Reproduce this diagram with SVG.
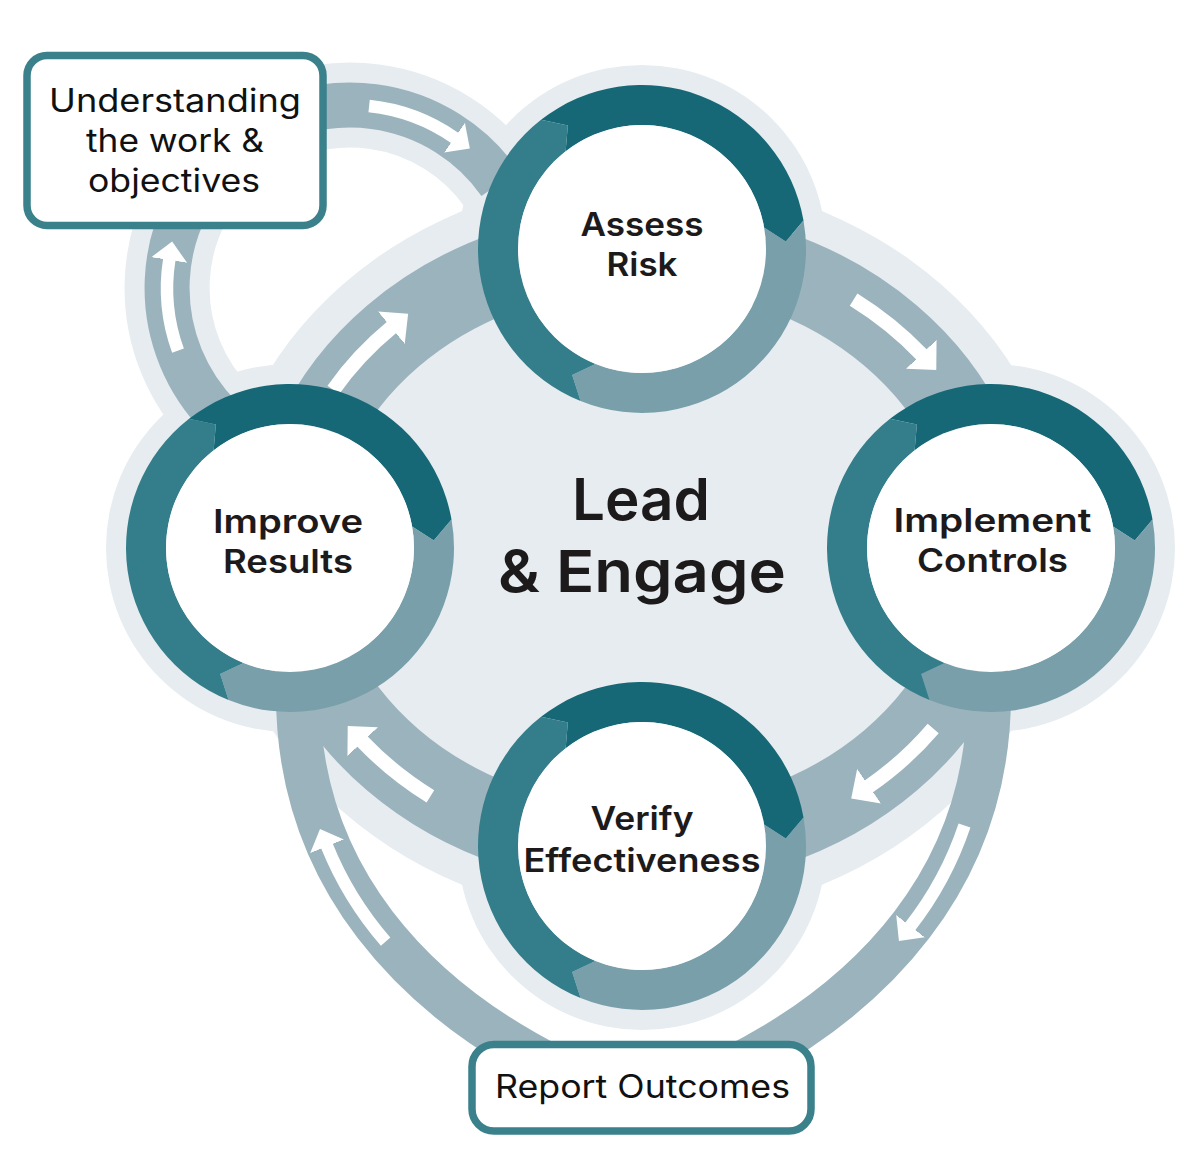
<svg xmlns="http://www.w3.org/2000/svg" width="1200" height="1163" viewBox="0 0 1200 1163">
<defs>
<style>
.halo{fill:#e6ecef}
.haloStroke{fill:none;stroke:#e6ecef}
.band{fill:none;stroke:#9bb3bd}
.arrow{fill:none;stroke:#ffffff;marker-end:url(#head)}
.dark{fill:#176876}
.mid{fill:#347e8b}
.light{fill:#789faa}
.inner{fill:#ffffff}
.lbl{font-family:Inter,"Liberation Sans",sans-serif;font-weight:600;font-size:33px;fill:#1d1a1b;text-anchor:middle}
.big{font-family:Inter,"Liberation Sans",sans-serif;font-weight:600;font-size:58px;fill:#1d1a1b;text-anchor:middle}
.box{fill:#ffffff;stroke:#3a818c;stroke-width:7.5}
.boxlbl{font-family:Inter,"Liberation Sans",sans-serif;font-weight:400;font-size:32px;fill:#111111;text-anchor:middle}
</style>
<marker id="head" viewBox="0 -1.5 1.6 3" refX="0.05" refY="0" markerWidth="1.6" markerHeight="3" markerUnits="strokeWidth" orient="auto">
<path d="M0,-1.45 L1.5,0 L0,1.45 Z" fill="#ffffff"/>
</marker>
<g id="ring">
<path class="dark" d="M-100.97,-129.23 A164 164 0 0 1 161.51,-28.47 L143.80,-7.53 L122.12,-21.53 A124 124 0 0 0 -76.35,-97.71 L-74.16,-123.44 Z"/>
<path class="light" d="M161.51,-28.47 A164 164 0 0 1 -61.43,152.06 L-69.81,125.94 L-46.45,114.97 A124 124 0 0 0 122.12,-21.53 L143.80,-7.53 Z"/>
<path class="mid" d="M-61.43,152.06 A164 164 0 0 1 -100.97,-129.23 L-74.16,-123.44 L-76.35,-97.71 A124 124 0 0 0 -46.45,114.97 L-69.81,125.94 Z"/>
<circle class="inner" r="124"/>
</g>
</defs>
<rect width="1200" height="1163" fill="#ffffff"/>
<g id="halos">
<ellipse class="halo" cx="642" cy="548" rx="424" ry="372"/>
<path class="haloStroke" stroke-width="85" d="M220.6,417.4 A183 183 0 1 1 499.9,183.0"/>
<circle class="halo" cx="642" cy="249" r="184"/>
<circle class="halo" cx="991" cy="548" r="184"/>
<circle class="halo" cx="642" cy="846" r="184"/>
<circle class="halo" cx="290" cy="548" r="184"/>
</g>
<g id="connectors">
<ellipse class="band" stroke-width="80" cx="642" cy="548" rx="352" ry="300"/>
<path class="band" stroke-width="45" d="M220.6,417.4 A183 183 0 1 1 499.9,183.0"/>
<path class="band" stroke-width="44" d="M298,690 C296,880 420,1000 555,1068"/>
<path class="band" stroke-width="44" d="M989,690 C991,880 867,1000 732,1068"/>
<path class="arrow" stroke-width="14.5" d="M853.6,299.6 A360 307 0 0 1 921.8,354.8"/>
<path class="arrow" stroke-width="14.5" d="M933.2,728.5 A360 307 0 0 1 868.5,786.6"/>
<path class="arrow" stroke-width="14.5" d="M430.4,796.4 A360 307 0 0 1 362.2,741.2"/>
<path class="arrow" stroke-width="14.5" d="M333.4,389.9 A360 307 0 0 1 391.9,327.2"/>
<path class="arrow" stroke-width="12.5" d="M385.6,941.7 A341 341 0 0 1 326.8,845.7"/>
<path class="arrow" stroke-width="12.5" d="M964.5,825.6 A339 339 0 0 1 910.1,926.7"/>
<path class="arrow" stroke-width="12.5" d="M369.1,106.0 A183 183 0 0 1 455.0,138.1"/>
<path class="arrow" stroke-width="12.5" d="M178,350.6 A183 183 0 0 1 169.3,259.4"/>
</g>
<g id="node-center">
<text class="big" x="641" y="520" textLength="138" lengthAdjust="spacingAndGlyphs">Lead</text>
<text class="big" x="642" y="592" textLength="288" lengthAdjust="spacingAndGlyphs">&amp; Engage</text>
</g>
<g id="node-assess" transform="translate(642,249)">
<use href="#ring"/>
<text class="lbl" x="0" y="-13" textLength="123" lengthAdjust="spacingAndGlyphs">Assess</text>
<text class="lbl" x="0" y="27" textLength="71" lengthAdjust="spacingAndGlyphs">Risk</text>
</g>
<g id="node-implement" transform="translate(991,548)">
<use href="#ring"/>
<text class="lbl" x="1.5" y="-16" textLength="198" lengthAdjust="spacingAndGlyphs">Implement</text>
<text class="lbl" x="1.5" y="24" textLength="151" lengthAdjust="spacingAndGlyphs">Controls</text>
</g>
<g id="node-verify" transform="translate(642,846)">
<use href="#ring"/>
<text class="lbl" x="0" y="-16" textLength="103" lengthAdjust="spacingAndGlyphs">Verify</text>
<text class="lbl" x="0" y="26" textLength="237" lengthAdjust="spacingAndGlyphs">Effectiveness</text>
</g>
<g id="node-improve" transform="translate(290,548)">
<use href="#ring"/>
<text class="lbl" x="-2" y="-15" textLength="150" lengthAdjust="spacingAndGlyphs">Improve</text>
<text class="lbl" x="-2" y="25" textLength="130" lengthAdjust="spacingAndGlyphs">Results</text>
</g>
<g id="node-understanding">
<rect class="box" x="27" y="55.5" width="296" height="170" rx="20"/>
<text class="boxlbl" x="175" y="112" textLength="252" lengthAdjust="spacingAndGlyphs">Understanding</text>
<text class="boxlbl" x="175" y="152" textLength="178" lengthAdjust="spacingAndGlyphs">the work &amp;</text>
<text class="boxlbl" x="174" y="192" textLength="172" lengthAdjust="spacingAndGlyphs">objectives</text>
</g>
<g id="node-report">
<rect class="box" x="472" y="1044.5" width="339" height="86.5" rx="22"/>
<text class="boxlbl" x="642.5" y="1098" font-size="33" textLength="295" lengthAdjust="spacingAndGlyphs">Report Outcomes</text>
</g>
</svg>
